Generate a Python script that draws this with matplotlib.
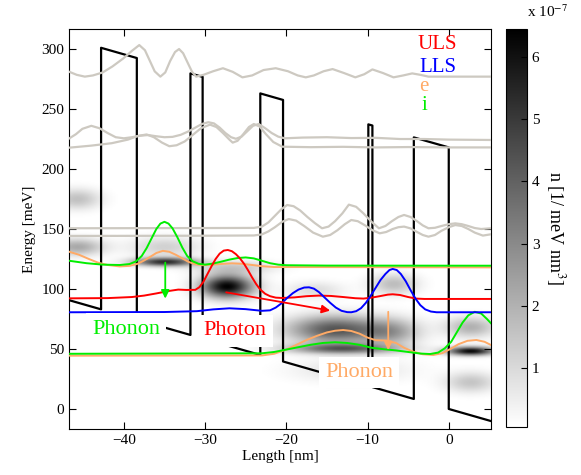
import numpy as np
import matplotlib
matplotlib.use("Agg")
import matplotlib.pyplot as plt

plt.rcParams['font.family'] = ['Liberation Serif', 'DejaVu Serif']
plt.rcParams['mathtext.fontset'] = 'stix'

# conduction band: barriers (nm), field (meV/nm), barrier height (meV)
barrier_left = [-42.8, -31.8, -23.2, -9.9, -4.3]
barrier_right = [-38.4, -30.3, -20.4, -9.4, 0.0]
field = 1.94
barrier_height = 218.0
x_range = [-46.75, 5.2]
e_range = [-16.7, 316.7]

# wavefunctions (x in nm, energy in meV)
gray1_x = [-46.7, -45.8, -44.8, -43.8, -42.6, -41.4, -40.1, -39.0, -38.1, -37.4, -36.8, -36.2, -35.5, -34.9,
           -34.3, -33.7, -33.2, -32.7, -32.1, -31.6, -31.1, -30.2, -29.0, -27.8, -26.6, -25.4, -24.2, -22.8,
           -21.3, -19.8, -18.6, -17.6, -16.6, -15.4, -14.3, -12.9, -11.5, -10.4, -9.4, -8.1, -6.8, -5.6,
           -4.5, -3.5, -2.5, -1, 5.2]
gray1_e = [281, 278.5, 277, 278, 280.5, 285.5, 292, 298.5, 303.3, 299, 290.2, 281.4, 277, 280.5,
           290, 297.5, 300, 296.5, 288, 281, 277, 278.5, 281.5, 284, 281, 276.4, 278, 282.5,
           284, 281.5, 278, 276.4, 278, 281.5, 283.3, 280, 276.4, 279, 283, 280, 276.4, 278,
           279.7, 278.5, 277, 277, 277]
gray2_x = [-46.7, -45.9, -45.1, -44.0, -43.0, -42.0, -41.0, -40.0, -39.0, -38.0, -37.0, -36.0, -35.0, -34.0,
           -33.0, -32.0, -31.2, -30.4, -29.6, -28.9, -28.2, -27.5, -26.8, -26.2, -25.5, -24.8, -24.1, -23.4,
           -22.6, -21.8, -21.0, -20.2, -18, -15, -12, -9, -6, -3, 0, 5.2]
gray2_e = [225.6, 229, 233.5, 236, 234, 230, 226.5, 225.6, 226.5, 227.8, 228.3, 227.3, 226.5, 226.8,
           228.5, 231.5, 234.5, 237.5, 239, 238, 234.5, 230, 226.5, 225.2, 227, 231.5, 236, 237.5,
           234, 230, 227, 225.6, 226.2, 226.5, 225.8, 226, 225, 225, 224.5, 224.2]
gray3_x = [-46.7, -44, -41.5, -39.5, -38.3, -37.2, -36.3, -35.3, -34.4, -33.5, -32.5, -31.5, -30.5, -29.4,
           -28.6, -27.8, -27.0, -26.6, -26.0, -25.3, -24.6, -24.0, -23.3, -22.5, -21.6, -20.5, -17, -13,
           -9, -5, 0, 5.2]
gray3_e = [217.8, 219.5, 221.5, 224.5, 227.5, 228.8, 226.5, 222, 219, 219.8, 223, 228.5, 234, 237,
           235, 230, 224.5, 222, 223.5, 229, 235, 237.5, 235.5, 229, 222.5, 218.6, 218.2, 218.5,
           218, 218.3, 218, 218]
gray4_x = [-46.7, -30, -24, -23, -22.2, -21.4, -20.6, -19.9, -19.1, -18.3, -17.4, -16.5, -15.6, -14.8,
           -14.0, -13.1, -12.3, -11.4, -10.5, -9.5, -8.6, -7.8, -7.0, -6.2, -5.5, -4.7, -3.9, -3.2,
           -2.5, -1.7, -0.9, 0.0, 0.8, 1.6, 2.4, 3.2, 4.0, 5.2]
gray4_e = [150.6, 150.8, 150.9, 152, 155.5, 161, 166.5, 170, 169, 165.5, 160, 155, 150.6, 152,
           156.5, 163, 170.3, 168.5, 163, 156, 150.6, 152.5, 156.5, 160, 161.7, 160, 156.5, 153,
           150.6, 151, 152.5, 154, 154.7, 154, 152.5, 150.8, 150, 150.6]
gray5_x = [-46.7, -30, -24, -23, -22.2, -21.4, -20.5, -19.7, -18.8, -17.8, -16.7, -15.5, -14.6, -13.7,
           -12.8, -12.0, -11.2, -10.3, -9.4, -8.5, -7.7, -6.9, -6.2, -5.5, -4.7, -3.9, -3.2, -2.5,
           -1.7, -0.9, 0.0, 0.8, 1.6, 2.4, 3.2, 4.2, 5.2]
gray5_e = [144.2, 144.4, 144.6, 145.5, 148, 151.5, 156, 158.3, 157, 152.5, 147, 143.6, 145, 149,
           154, 157.5, 156.5, 153, 149, 146.4, 147.5, 150, 151.5, 152, 150.5, 147.5, 145, 143.6,
           145, 148.5, 151.5, 153.3, 152.5, 150, 147, 144.5, 145.6]

uls_x = [-46.7, -42, -39, -37.5, -36, -34.5, -33.3, -32.3, -31.2, -30.7, -30.2, -29.7, -29.2, -28.7,
         -28.2, -27.7, -27.2, -26.7, -26.2, -25.7, -25.2, -24.7, -24.2, -23.7, -23.2, -22.6, -22,
         -21.3, -20.5, -19, -17.5, -16, -14.5, -13, -11.5, -10.5, -9.5, -8.5, -7.5, -6.9, -6, -5,
         -4, -3, 5.2]
uls_e = [92.2, 92.4, 93.3, 94.5, 96.3, 98.3, 99.5, 99.2, 99.3, 101.5, 106, 112.5, 119, 125,
         129.5, 132, 132.5, 131.5, 129, 125.5, 121, 115.5, 109.5, 104, 99.5, 96, 94,
         92.8, 92.5, 93, 94, 94.5, 94.2, 93.3, 92.3, 92, 92.8, 94, 95.3, 95.6, 95, 93.3,
         92, 91.7, 91.7]
lls_x = [-46.7, -35, -31, -29, -27, -25, -23, -22, -21.3, -20.6, -19.9, -19.2, -18.5, -17.8, -17.2,
         -16.6, -16.0, -15.3, -14.6, -13.9, -13.2, -12.5, -12.0, -11.4, -10.8, -10.2, -9.6, -9.0,
         -8.4, -7.8, -7.3, -6.9, -6.4, -5.9, -5.3, -4.7, -4.1, -3.5, -2.9, -2.2, -1.5, 5.2]
lls_e = [80.6, 80.8, 81.5, 83, 83.9, 83.2, 81.8, 82.2, 84.5, 88, 92.5, 96.5, 99.5, 101.2, 101.4,
         100.3, 97.5, 93, 88.5, 84.5, 81.8, 80.7, 80.6, 81.5, 84, 88.5, 94.5, 101,
         107.5, 112.5, 115.8, 116.7, 115.8, 112.5, 106.5, 99, 92, 86.5, 83, 81.2, 80.6, 80.6]
e_up_x = [-46.7, -45.5, -44.3, -43.2, -42, -40.5, -39.3, -38.3, -37.5, -36.7, -36, -35.2, -34.4, -33.6,
          -32.8, -32, -31.2, -30.3, -29, -27.7, -26.7, -25.5, -24.2, -23, -21.5, 5.2]
e_up_e = [131, 128.5, 125, 122, 120, 118.8, 119.3, 121, 123.8, 127, 130, 131.8, 131, 128.5,
          125.5, 122.5, 120.6, 119.8, 120.3, 121, 121.4, 121, 120, 119, 118.3, 118]
i_up_x = [-46.7, -44.6, -42.6, -40.5, -39.3, -38.5, -37.8, -37.2, -36.6, -36.0, -35.5, -35.0, -34.5,
          -34.0, -33.4, -32.8, -32.2, -31.5, -30.8, -30.0, -29, -28, -27, -26, -25, -24, -23, -22,
          -21, -20, -15, 5.2]
i_up_e = [123.5, 121.5, 120.3, 120, 120.8, 123, 127.5, 134, 142, 150, 154.5, 156, 154.5,
          150.5, 143, 134.5, 127.5, 123, 121, 120.3, 121.2, 122.8, 124.5, 125.8, 126.3, 125.5, 123.5, 121.5,
          120.3, 119.8, 119.5, 119.4]
e_lo_x = [-46.7, -23, -21.5, -20, -18.8, -17.5, -16.2, -15, -14, -13, -12, -11, -10, -9, -7.7, -6.5,
          -5.5, -4.4, -3.2, -1.9, -0.8, 0.2, 1.2, 2.3, 3.4, 4.4, 5.2]
e_lo_e = [44.4, 44.6, 46, 49.5, 53.3, 57.5, 61, 63.8, 65.2, 65.8, 65, 62.8, 59.5, 57.3, 57, 55,
          51, 47.8, 45.6, 45, 46.5, 50, 54, 56.8, 57.5, 56, 53.3]
i_lo_x = [-46.7, -23, -21.5, -20, -18.5, -17, -15.5, -14, -12.5, -11, -9.5, -8, -6.5, -5, -3.5, -2.3,
          -1.3, -0.5, 0.3, 1.0, 1.7, 2.4, 3.2, 4.0, 4.7, 5.2]
i_lo_e = [46, 46.4, 47.5, 49.5, 51.5, 53.5, 55, 55.6, 55, 53.5, 51, 49.8, 48.8, 47.5, 46.2, 45.8,
          47, 50.5, 56, 64, 72, 78, 81, 79.5, 75, 71.4]

# electron density blobs (units 1e-7 / meV nm^3)
blob_x = [-45.8, -45.8, -35.0, -35.0, -27.3, -26.5, -16.5, -6.7, -14.0, -7.0, -13.0, 2.8, 2.8, 2.8, -12.0]
blob_e = [175, 135, 122.5, 135, 102, 118, 99, 104, 66, 64, 50, 48, 68, 22, 32]
blob_sx = [2.0, 2.3, 2.6, 3.0, 2.2, 3.5, 2.5, 2.0, 4.0, 2.5, 4.5, 2.0, 2.2, 2.2, 5.0]
blob_se = [6, 5, 2.5, 6, 6.5, 4, 5, 6, 8, 8, 3, 2.5, 6, 6, 7]
blob_amp = [1.6, 2.2, 5.2, 1.2, 6.4, 1.3, 0.9, 1.7, 4.3, 2.2, 3.8, 6.2, 2.0, 1.5, 0.8]
n_ticks = [1, 2, 3, 4, 5, 6]

green = '#00ee00'
orange = '#ffaa66'
grey = '#cdc9c1'
serif = ['Liberation Serif', 'DejaVu Serif']

fig = plt.figure(figsize=(5.81, 4.75), dpi=100)
ax = fig.add_axes([69/581, 46/475, 422/581, 400/475])

# density map
gx = np.linspace(x_range[0], x_range[1], 300)
ge = np.linspace(e_range[0], e_range[1], 500)
XX, EE = np.meshgrid(gx, ge)
dens = np.zeros_like(XX)
for bx, be, sx, se, a in zip(blob_x, blob_e, blob_sx, blob_se, blob_amp):
    dens += a*np.exp(-0.5*((XX-bx)/sx)**2 - 0.5*((EE-be)/se)**2)
im = ax.imshow(dens, extent=[x_range[0], x_range[1], e_range[0], e_range[1]], origin='lower',
               aspect='auto', cmap='gray_r', vmin=0.05, vmax=6.45, interpolation='bilinear', zorder=0)

# conduction band profile
px = [x_range[0]]
pv = [-field*x_range[0]]
for bl, br in zip(barrier_left, barrier_right):
    px += [bl, bl, br, br]
    pv += [-field*bl, -field*bl + barrier_height, -field*br + barrier_height, -field*br]
px.append(x_range[1])
pv.append(-field*x_range[1])
ax.plot(px, pv, color='k', lw=1.6, zorder=2)

for gxs, ges in [(gray1_x, gray1_e), (gray2_x, gray2_e), (gray3_x, gray3_e),
                 (gray4_x, gray4_e), (gray5_x, gray5_e)]:
    ax.plot(gxs, ges, color=grey, lw=1.6, zorder=3)

ax.plot(e_up_x, e_up_e, color=orange, lw=1.4, zorder=4)
ax.plot(e_lo_x, e_lo_e, color=orange, lw=1.4, zorder=4)
ax.plot(i_up_x, i_up_e, color=green, lw=1.4, zorder=4)
ax.plot(i_lo_x, i_lo_e, color=green, lw=1.4, zorder=4)
ax.plot(uls_x, uls_e, color='red', lw=1.4, zorder=5)
ax.plot(lls_x, lls_e, color='blue', lw=1.4, zorder=5)

# transitions
arr = dict(arrowstyle='-|>', lw=1.3, mutation_scale=12, shrinkA=0, shrinkB=0)
ax.annotate('', xy=(-34.9, 92), xytext=(-34.9, 122), arrowprops=dict(color=green, **arr), zorder=6)
ax.annotate('', xy=(-14.6, 82), xytext=(-27.4, 97.2), arrowprops=dict(color='red', **arr), zorder=6)
ax.annotate('', xy=(-7.45, 49), xytext=(-7.45, 81), arrowprops=dict(color=orange, **arr), zorder=6)

box = dict(facecolor='white', edgecolor='none', pad=4.5)
ax.text(-39.7, 66.5, 'Phonon', color=green, fontsize=16, family=serif, ha='center', va='center',
        bbox=box, zorder=7)
ax.text(-26.3, 65, 'Photon', color='red', fontsize=16, family=serif, ha='center', va='center',
        bbox=box, zorder=7)
ax.text(-11.05, 30.3, 'Phonon', color=orange, fontsize=16, family=serif, ha='center', va='center',
        bbox=box, zorder=7)

# legend labels
ax.text(-3.9, 303.5, 'ULS', color='red', fontsize=15, family=serif, ha='left', va='center', zorder=7)
ax.text(-3.6, 284.6, 'LLS', color='blue', fontsize=15, family=serif, ha='left', va='center', zorder=7)
ax.text(-3.6, 268.6, 'e', color=orange, fontsize=15, family=serif, ha='left', va='center', zorder=7)
ax.text(-3.3, 252.6, 'i', color=green, fontsize=15, family=serif, ha='left', va='center', zorder=7)

ax.set_xlim(x_range)
ax.set_ylim(e_range)
ax.set_xticks([-40, -30, -20, -10, 0])
ax.set_yticks([0, 50, 100, 150, 200, 250, 300])
ax.tick_params(direction='in', top=True, right=True, labelsize=11, length=5)
ax.set_xlabel('Length [nm]', fontsize=11, labelpad=2)
ax.set_ylabel('Energy [meV]', fontsize=11, labelpad=4)

cax = fig.add_axes([506/581, 48/475, 21/581, 398/475])
cb = fig.colorbar(im, cax=cax, ticks=n_ticks)
cax.tick_params(direction='in', labelsize=11, length=4)
fig.text(527/581, 1 - 12/475, 'x 10$^{-7}$', fontsize=11, ha='left', va='center')
fig.text(556/581, 1 - 228/475, 'n [1/ meV nm$^3$]', fontsize=13, rotation=270, ha='center', va='center')

fig.savefig('out.png', dpi=100)
